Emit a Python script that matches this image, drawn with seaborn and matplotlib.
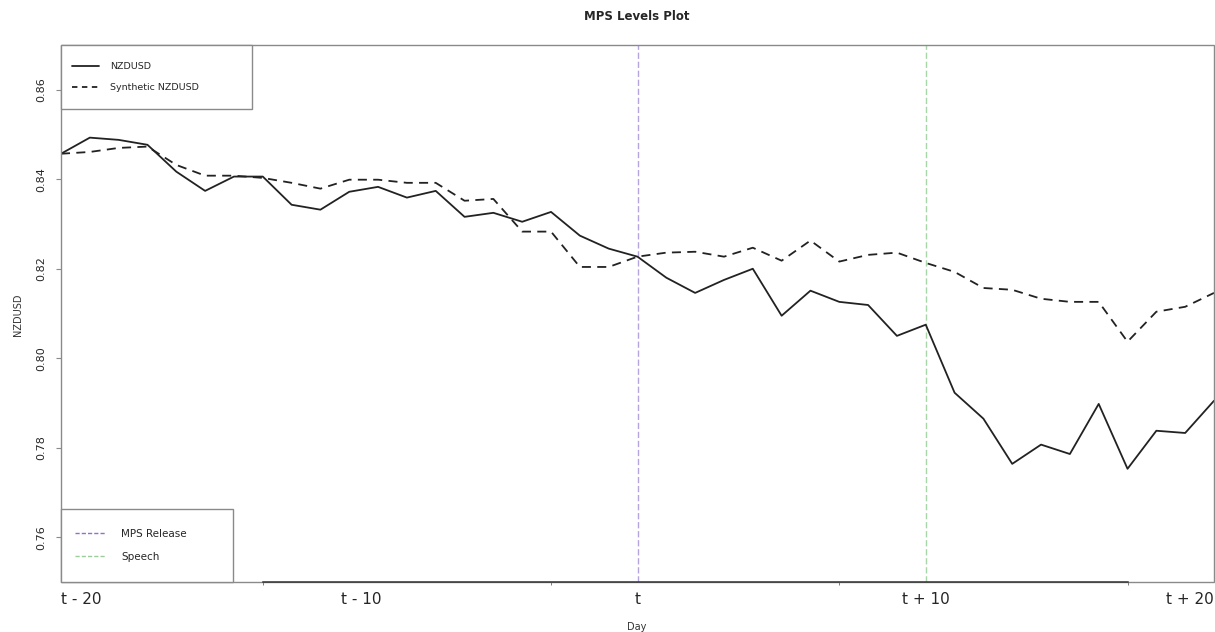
import numpy as np
import pandas as pd
import matplotlib
matplotlib.use("Agg")
import matplotlib.pyplot as plt
from matplotlib.patches import Rectangle
from matplotlib.lines import Line2D
from matplotlib.legend_handler import HandlerLine2D
import seaborn as sns

# Days relative to the MPS release (t)
days = list(range(-20, 21))

nzdusd = [
    0.8457, 0.8493, 0.8488, 0.8477, 0.8417, 0.8374, 0.8406, 0.8406, 0.8343, 0.8332,
    0.8372, 0.8383, 0.8359, 0.8374, 0.8316, 0.8325, 0.8305, 0.8327, 0.8274, 0.8245,
    0.8227, 0.8180, 0.8146, 0.8175, 0.8200, 0.8095, 0.8151, 0.8126, 0.8119, 0.8050,
    0.8075, 0.7923, 0.7865, 0.7764, 0.7807, 0.7786, 0.7898, 0.7753, 0.7838, 0.7833,
    0.7905,
]

synthetic = [
    0.8457, 0.8461, 0.8470, 0.8473, 0.8432, 0.8408, 0.8408, 0.8403, 0.8392, 0.8379,
    0.8399, 0.8399, 0.8392, 0.8392, 0.8352, 0.8356, 0.8283, 0.8283, 0.8204, 0.8204,
    0.8227, 0.8236, 0.8238, 0.8227, 0.8247, 0.8218, 0.8263, 0.8216, 0.8231, 0.8236,
    0.8213, 0.8193, 0.8157, 0.8153, 0.8133, 0.8126, 0.8126, 0.8037, 0.8104, 0.8115,
    0.8146,
]

event_days = [0, 10]
event_labels = ["MPS Release", "Speech"]
event_colors = ["#b6a4de", "#a8d6a8"]
event_legend_colors = ["#9070d0", "#9ccc9c"]

x_tick_labels = ["t - 20", "t - 10", "t", "t + 10", "t + 20"]
x_tick_pos = [-20, -9.6, 0, 10, 20]
y_ticks = [0.76, 0.78, 0.80, 0.82, 0.84, 0.86]

df = pd.DataFrame({"day": days, "NZDUSD": nzdusd, "Synthetic NZDUSD": synthetic})


class LoweredLineHandler(HandlerLine2D):
    """Legend line handler that lowers the sample line by a fraction of the font size."""

    def __init__(self, drop, **kwargs):
        super().__init__(**kwargs)
        self.drop = drop

    def create_artists(self, legend, orig_handle, xdescent, ydescent, width,
                       height, fontsize, trans):
        artists = super().create_artists(legend, orig_handle, xdescent,
                                         ydescent, width, height, fontsize,
                                         trans)
        for a in artists:
            a.set_ydata(np.asarray(a.get_ydata()) - self.drop * fontsize)
        return artists


sns.set_style("white")
plt.rcParams["font.family"] = ["DejaVu Sans"]

fig = plt.figure(figsize=(12.15, 6.32), dpi=100)
ax = fig.add_axes([61 / 1215, 50 / 632, 1153 / 1215, 537 / 632])

line_col = "#222222"
sns.lineplot(data=df, x="day", y="NZDUSD", ax=ax, color=line_col, lw=1.3,
             legend=False)
sns.lineplot(data=df, x="day", y="Synthetic NZDUSD", ax=ax, color=line_col,
             lw=1.3, linestyle=(0, (5, 3.5)), legend=False)

for d, c in zip(event_days, event_colors):
    ax.axvline(d, color=c, lw=1.0, linestyle=(0, (4.5, 2)), zorder=1)

ax.set_xlim(-20, 20)
ax.set_ylim(0.75, 0.87)

# frame
for s in ax.spines.values():
    s.set_visible(False)
ax.add_patch(Rectangle((0, 0), 1, 1, transform=ax.transAxes, fill=False,
                       edgecolor="#8a8a8a", lw=1.0, zorder=5, clip_on=False))
ax.spines["bottom"].set_visible(True)
ax.spines["bottom"].set_color("#333333")
ax.spines["bottom"].set_linewidth(1.1)
ax.spines["bottom"].set_bounds(-13, 17)
ax.spines["bottom"].set_zorder(6)

# y axis
ax.set_yticks(y_ticks)
ax.set_yticklabels([f"{v:.2f}" for v in y_ticks], rotation=90, va="center",
                   fontsize=8)
ax.tick_params(axis="y", left=True, length=3.5, width=0.8, color="#8a8a8a",
               pad=7)

# x axis: labels only, plus the small axis ticks
ax.set_xticks(x_tick_pos)
ax.set_xticklabels(x_tick_labels, fontsize=11)
ax.tick_params(axis="x", bottom=False, pad=4)
xt = ax.get_xticklabels()
xt[0].set_ha("left")
xt[-1].set_ha("right")
ax.set_xticks([-13, -3, 7, 17], minor=True)
ax.tick_params(axis="x", which="minor", bottom=True, length=2, width=0.6,
               color="#666666")

ax.set_xlabel("")
ax.set_ylabel("")
fig.text(18 / 1215, 1 - 315 / 632, "NZDUSD", rotation=90, ha="center",
         va="center", fontsize=7, color="#333333")
fig.text(637 / 1215, 5 / 632, "Day", ha="center", va="center", fontsize=7,
         color="#333333")
fig.text(637 / 1215, 1 - 17 / 632, "MPS Levels Plot", ha="center", va="center",
         fontsize=8.5, fontweight="bold")

# legends (tall rows; sample lines lowered to sit level with the text)
series_handles = [
    Line2D([], [], color=line_col, lw=1.3),
    Line2D([], [], color=line_col, lw=1.3, linestyle=(0, (3, 2.5))),
]
leg1 = ax.legend(series_handles, ["NZDUSD", "Synthetic NZDUSD"],
                 loc="upper left", bbox_to_anchor=(0, 1, 191 / 1153, 0),
                 mode="expand", fontsize=6.8, frameon=True, fancybox=False,
                 edgecolor="#8a8a8a", framealpha=1, borderaxespad=0,
                 borderpad=1.2, labelspacing=0.1, handleheight=2.9,
                 handlelength=2.8, handletextpad=1.2,
                 handler_map={Line2D: LoweredLineHandler(0.32)})
leg1.get_frame().set_linewidth(1.0)
ax.add_artist(leg1)

event_handles = [Line2D([], [], color=c, lw=1.0, linestyle=(0, (3, 1.5)))
                 for c in event_legend_colors]
leg2 = ax.legend(event_handles, event_labels, loc="lower left",
                 bbox_to_anchor=(0, 0, 172 / 1153, 0), mode="expand",
                 fontsize=7.5, frameon=True, fancybox=False,
                 edgecolor="#8a8a8a", framealpha=1, borderaxespad=0,
                 borderpad=1.35, labelspacing=0.2, handleheight=2.8,
                 handlelength=3.0, handletextpad=1.4,
                 handler_map={Line2D: LoweredLineHandler(0.29)})
leg2.get_frame().set_linewidth(1.0)

fig.savefig("out.png", dpi=100)
